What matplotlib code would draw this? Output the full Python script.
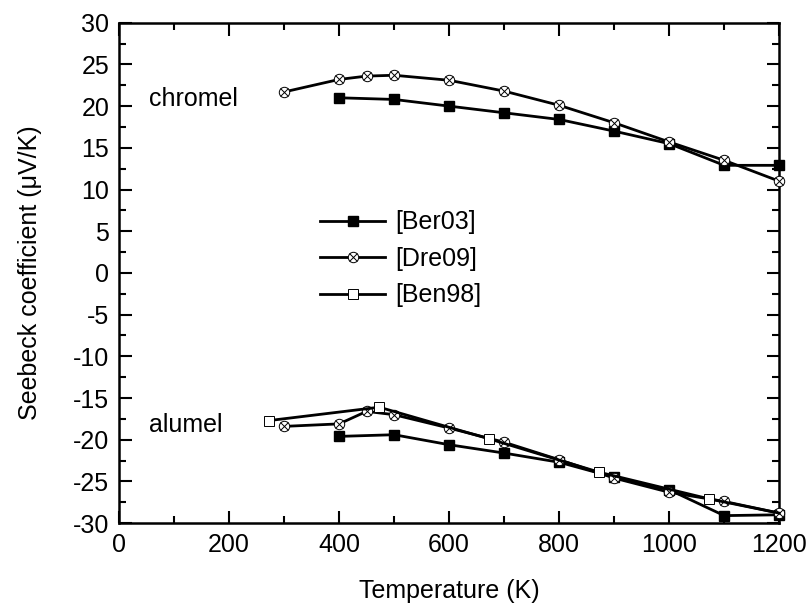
import matplotlib
matplotlib.use("Agg")
import matplotlib.pyplot as plt
from matplotlib.ticker import MultipleLocator

plt.rcParams['font.family'] = ['Liberation Sans', 'DejaVu Sans']
plt.rcParams['axes.unicode_minus'] = False

# chromel
ber03_chromel_T = [400, 500, 600, 700, 800, 900, 1000, 1100, 1200]
ber03_chromel_S = [21.0, 20.8, 20.0, 19.2, 18.4, 17.0, 15.5, 12.9, 12.9]
dre09_chromel_T = [300, 400, 450, 500, 600, 700, 800, 900, 1000, 1100, 1200]
dre09_chromel_S = [21.7, 23.2, 23.6, 23.7, 23.1, 21.8, 20.1, 18.0, 15.7, 13.5, 11.0]

# alumel
ber03_alumel_T = [400, 500, 600, 700, 800, 900, 1000, 1100, 1200]
ber03_alumel_S = [-19.6, -19.4, -20.6, -21.6, -22.7, -24.5, -26.0, -29.1, -29.0]
dre09_alumel_T = [300, 400, 450, 500, 600, 700, 800, 900, 1000, 1100, 1200]
dre09_alumel_S = [-18.4, -18.1, -16.6, -17.0, -18.6, -20.3, -22.4, -24.6, -26.3, -27.4, -28.8]
ben98_alumel_T = [273, 473, 673, 873, 1073, 1200]
ben98_alumel_S = [-17.7, -16.1, -19.9, -23.9, -27.1, -28.8]

fig = plt.figure(figsize=(8.1, 6.14), dpi=100)
ax = fig.add_axes([0.147, 0.148, 0.815, 0.815])

lw = 2.0
fs = 18
sq = dict(marker='s', markersize=7, color='black', linewidth=lw)
osq = dict(marker='s', markersize=7, color='black', markerfacecolor='white',
           markeredgewidth=0.7, linewidth=lw)
circ = dict(marker='o', markersize=7.5, color='black', markerfacecolor='white',
            markeredgewidth=0.7, linewidth=lw)
cross = dict(marker='x', markersize=5.5, color='black', linestyle='none',
             markeredgewidth=0.7)

h1, = ax.plot(ber03_chromel_T, ber03_chromel_S, **sq, clip_on=False, zorder=3)
ax.plot(ber03_alumel_T, ber03_alumel_S, **sq, clip_on=False, zorder=3)
h2, = ax.plot(dre09_chromel_T, dre09_chromel_S, **circ, clip_on=False, zorder=4)
h2x, = ax.plot(dre09_chromel_T, dre09_chromel_S, **cross, clip_on=False, zorder=5)
ax.plot(dre09_alumel_T, dre09_alumel_S, **circ, clip_on=False, zorder=4)
ax.plot(dre09_alumel_T, dre09_alumel_S, **cross, clip_on=False, zorder=5)
h3, = ax.plot(ben98_alumel_T, ben98_alumel_S, **osq, markevery=[0, 1, 2, 3, 4],
              clip_on=False, zorder=4)

ax.text(54, 20.8, 'chromel', fontsize=fs, va='center', ha='left')
ax.text(54, -18.2, 'alumel', fontsize=fs, va='center', ha='left')

ax.legend([h1, (h2, h2x), h3], ['[Ber03]', '[Dre09]', '[Ben98]'],
          loc='upper left', bbox_to_anchor=(0.278, 0.66), frameon=False,
          fontsize=fs, handlelength=2.6, handletextpad=0.4, labelspacing=0.5,
          borderpad=0.2)

ax.set_xlim(0, 1200)
ax.set_ylim(-30, 30)
ax.xaxis.set_major_locator(MultipleLocator(200))
ax.xaxis.set_minor_locator(MultipleLocator(100))
ax.yaxis.set_major_locator(MultipleLocator(5))
ax.yaxis.set_minor_locator(MultipleLocator(2.5))
ax.tick_params(which='both', direction='in', top=True, right=True, width=1.5)
ax.tick_params(which='major', length=9, labelsize=fs, pad=7)
ax.tick_params(which='minor', length=5)
for s in ax.spines.values():
    s.set_linewidth(1.8)

ax.set_xlabel('Temperature (K)', fontsize=fs, labelpad=16)
ax.set_ylabel('Seebeck coefficient (\u03bcV/K)', fontsize=fs, labelpad=22)

fig.savefig('out.png', dpi=100)
